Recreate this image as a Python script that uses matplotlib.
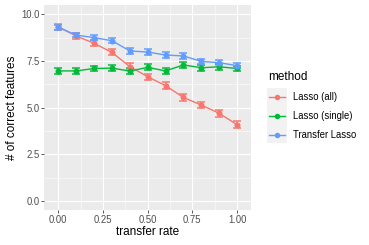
import matplotlib

matplotlib.use("Agg")
import matplotlib.pyplot as plt
from matplotlib.patches import Rectangle
import numpy as np

plt.rcParams["font.family"] = ["Liberation Sans", "DejaVu Sans"]

# values
transfer_rate = [0.0, 0.1, 0.2, 0.3, 0.4, 0.5, 0.6, 0.7, 0.8, 0.9, 1.0]
lasso_all = [9.33, 8.84, 8.45, 7.96, 7.20, 6.66, 6.18, 5.55, 5.14, 4.70, 4.09]
lasso_single = [6.97, 6.97, 7.10, 7.12, 6.96, 7.16, 6.97, 7.29, 7.14, 7.19, 7.10]
transfer_lasso = [9.30, 8.89, 8.75, 8.59, 8.04, 7.98, 7.82, 7.77, 7.48, 7.41, 7.25]
err_all = [0.15, 0.14, 0.15, 0.16, 0.17, 0.17, 0.17, 0.18, 0.17, 0.18, 0.18]
err_single = [0.15, 0.15, 0.15, 0.15, 0.16, 0.16, 0.15, 0.15, 0.15, 0.15, 0.15]
err_transfer = [0.13, 0.13, 0.13, 0.14, 0.14, 0.14, 0.14, 0.15, 0.15, 0.15, 0.15]

methods = ["Lasso (all)", "Lasso (single)", "Transfer Lasso"]
colors = ["#F8766D", "#00BA38", "#619CFF"]

x_ticks = [0.0, 0.25, 0.5, 0.75, 1.0]
x_ticklabels = ["0.00", "0.25", "0.50", "0.75", "1.00"]
y_ticks = [0.0, 2.5, 5.0, 7.5, 10.0]
y_ticklabels = ["0.0", "2.5", "5.0", "7.5", "10.0"]

W, H = 369, 245
fig = plt.figure(figsize=(W / 72, H / 72), dpi=72)
ax = fig.add_axes([44 / W, 1 - 210 / H, (251 - 44) / W, (210 - 5) / H])
ax.set_facecolor("#EBEBEB")
for s in ax.spines.values():
    s.set_visible(False)

x = np.array(transfer_rate)
series = [(lasso_all, err_all), (lasso_single, err_single), (transfer_lasso, err_transfer)]
for (y, e), c in zip(series, colors):
    ax.plot(x, y, color=c, lw=1.4, zorder=3)
    ax.errorbar(x, y, yerr=e, fmt="none", ecolor=c, elinewidth=1.5,
                capsize=4, capthick=1.5, zorder=3)
    ax.scatter(x, y, s=36, color=c, zorder=4, linewidths=0)

ax.set_xlim(-0.08, 1.078)
ax.set_ylim(-0.48, 10.5)
ax.set_xticks(x_ticks)
ax.set_xticklabels(x_ticklabels)
ax.set_yticks(y_ticks)
ax.set_yticklabels(y_ticklabels)
ax.set_xticks([0.125, 0.375, 0.625, 0.875], minor=True)
ax.set_yticks([1.25, 3.75, 6.25, 8.75], minor=True)
ax.grid(which="major", color="white", lw=1.1, zorder=0)
ax.grid(which="minor", color="white", lw=0.55, zorder=0)
ax.set_axisbelow(True)
ax.tick_params(which="major", length=2.7, width=0.8, color="#333333",
               labelsize=9.5, labelcolor="#4D4D4D", pad=2)
ax.tick_params(which="minor", length=0)
ax.set_xlabel("transfer rate", fontsize=11.8, labelpad=1.5)
ax.set_ylabel("# of correct features", fontsize=11.8, labelpad=2.5)

# legend drawn by hand in pixel coordinates, ggplot style
def fx(px):
    return px / W


def fy(py):
    return 1 - py / H


fig.text(fx(268), fy(77.5), "method", fontsize=11.8, va="center", ha="left")
fig.add_artist(Rectangle((fx(267), fy(143)), fx(287) - fx(267), fy(88) - fy(143),
                         transform=fig.transFigure, facecolor="#F2F2F2",
                         edgecolor="none"))
row_y = [97.3, 116.5, 135]
for ry, c, m in zip(row_y, colors, methods):
    fig.add_artist(plt.Line2D([fx(269), fx(285)], [fy(ry), fy(ry)],
                              transform=fig.transFigure, color=c, lw=1.4))
    fig.add_artist(plt.Line2D([fx(277)], [fy(ry)], transform=fig.transFigure,
                              color=c, marker="o", markersize=5.5,
                              markeredgewidth=0))
    fig.text(fx(293), fy(ry), m, fontsize=9.5, va="center", ha="left")

fig.savefig("out.png", dpi=72)
